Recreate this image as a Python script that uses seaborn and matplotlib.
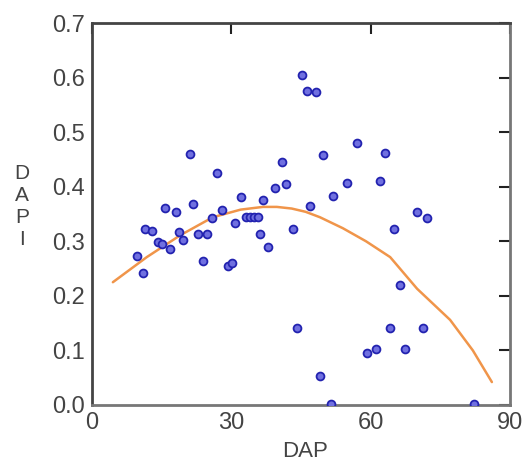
import matplotlib
matplotlib.use('Agg')
import matplotlib.pyplot as plt
import pandas as pd
import seaborn as sns

dap = [9.7, 11.0, 11.4, 12.9, 14.2, 15.1, 15.7, 18.1, 16.8, 18.7,
       19.6, 21.1, 21.8, 22.8, 24.8, 23.9, 25.8, 26.9, 28.0, 29.3,
       30.2, 30.8, 32.1, 33.2, 34.0, 34.9, 35.8, 36.2, 36.8, 37.9,
       39.4, 41.8, 40.9, 43.3, 44.1, 45.2, 46.3, 48.2, 46.9, 49.7,
       51.9, 54.9, 57.1, 62.0, 63.1, 65.0, 70.0, 72.1, 66.3, 64.2,
       71.3, 59.2, 61.2, 67.4, 49.1, 51.5, 82.3]
dapi = [0.273, 0.242, 0.322, 0.319, 0.299, 0.295, 0.361, 0.353, 0.286, 0.317,
        0.302, 0.460, 0.368, 0.313, 0.313, 0.264, 0.342, 0.425, 0.357, 0.255,
        0.260, 0.333, 0.381, 0.344, 0.344, 0.344, 0.344, 0.313, 0.375, 0.289,
        0.397, 0.405, 0.445, 0.322, 0.141, 0.604, 0.575, 0.573, 0.364, 0.458,
        0.383, 0.407, 0.480, 0.410, 0.462, 0.322, 0.353, 0.342, 0.220, 0.141,
        0.141, 0.095, 0.103, 0.103, 0.053, 0.002, 0.002]

# fitted curve, read at a number of DAP values
curve_dap = [4.5, 11.8, 19.0, 26.0, 32.0, 36.8, 39.8, 43.0, 46.0, 49.1,
             54.0, 59.0, 64.2, 70.0, 77.1, 82.0, 86.1]
curve_dapi = [0.225, 0.271, 0.311, 0.344, 0.358, 0.363, 0.363, 0.360, 0.354, 0.344,
              0.324, 0.300, 0.271, 0.213, 0.156, 0.100, 0.042]

x_ticks = [0, 30, 60, 90]
y_ticks = [0.0, 0.1, 0.2, 0.3, 0.4, 0.5, 0.6, 0.7]

sns.set_style("white")
plt.rcParams['font.family'] = ['Liberation Sans', 'DejaVu Sans']

pts = pd.DataFrame({'DAP': dap, 'DAPI': dapi})
fit = pd.DataFrame({'DAP': curve_dap, 'DAPI': curve_dapi})

fig = plt.figure(figsize=(5.28, 4.63), dpi=100)
ax = fig.add_axes([0.1742, 0.1253, 0.7917, 0.825])

sns.lineplot(data=fit, x='DAP', y='DAPI', ax=ax, color='#f0954a', lw=1.8,
             sort=False, zorder=2)
sns.scatterplot(data=pts, x='DAP', y='DAPI', ax=ax, s=32, marker='o',
                facecolor='#7070e0', edgecolor='#2323b0', linewidth=1.3,
                zorder=3)

ax.set_xlim(0, 90)
ax.set_ylim(0, 0.7)
ax.set_xticks(x_ticks)
ax.set_yticks(y_ticks)
ax.set_xticklabels([str(t) for t in x_ticks])
ax.set_yticklabels([f"{t:.1f}" for t in y_ticks])

ax.tick_params(direction='in', length=8, width=1.5, colors='#222',
               labelcolor='#444', labelsize=17, pad=5,
               top=True, right=True)

for side, spine in ax.spines.items():
    spine.set_visible(True)
    spine.set_linewidth(2)
    spine.set_color('#444' if side in ('left', 'top') else '#777')

ax.set_xlabel('DAP', fontsize=16, color='#444')
ax.xaxis.label.set_va('center')
ax.xaxis.set_label_coords(0.51, -0.123)

ax.set_ylabel('D\nA\nP\nI', fontsize=15, color='#444', rotation=0,
              linespacing=1.2, va='center', ha='center')
ax.yaxis.set_label_coords(-0.167, 0.52)

fig.savefig('out.png', dpi=100)
